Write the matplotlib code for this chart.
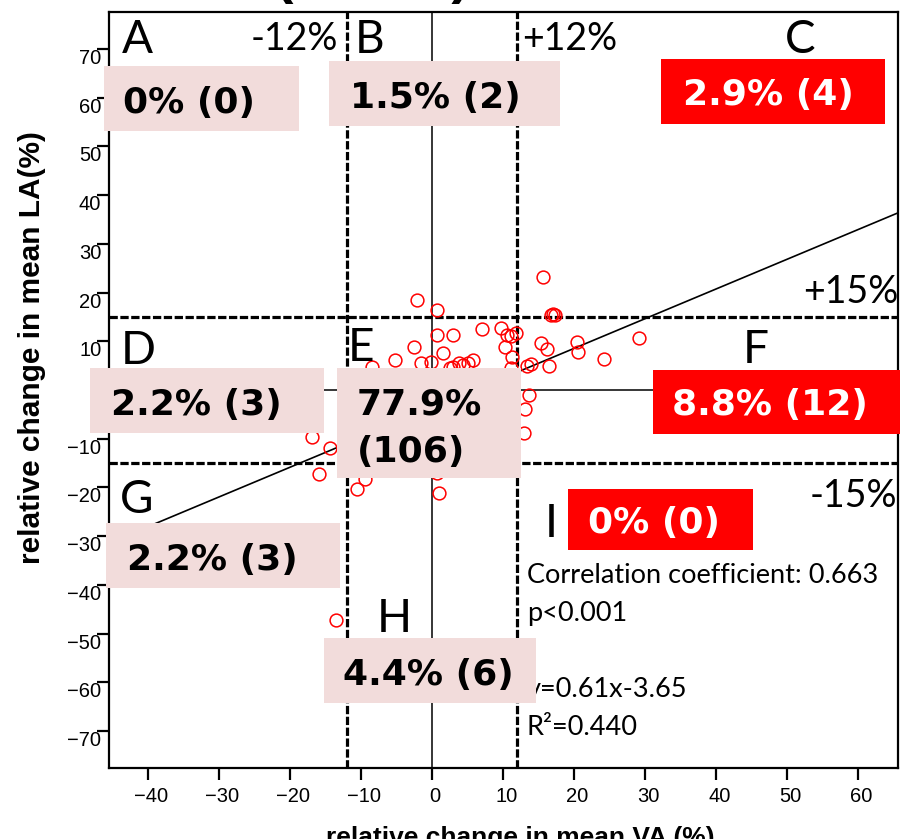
import numpy as np
import matplotlib
matplotlib.use("Agg")
import matplotlib.pyplot as plt
from matplotlib.patches import Rectangle
from matplotlib.transforms import ScaledTranslation

# relative change (%) of mean VA (x) and mean LA (y), one value per eye
va_change = [
    -2.2, 0.7,
    15.6, 16.7, 17.0, 17.3,
    15.4, 16.2, 20.4, 20.5, 24.2, 29.1, 16.4, 13.3, 13.9, 13.6, 13.1, 13.0,
    -16.9, -14.4, -21.0,
    -16.0, -13.5, -24.0,
    -10.6, -9.4, 0.7, 1.0, -4.0, 5.5,
    -8.4, -5.2, -2.5, -1.5, -0.1, 0.7, 2.9, 1.5, 7.0, 9.7, 10.6,
    11.1, 11.8, 10.3, 11.2, 11.1, 5.8, 5.0, 3.8, 3.0, 2.5, 4.4,
    -10.8, -10.1, -9.6, -9.2, -8.8, -8.5, -8.1, -7.7, -7.4, -7.0,
    -6.7, -6.3, -6.0, -5.7, -5.4, -5.1, -4.8, -4.5, -4.2, -3.9,
    -3.6, -3.3, -3.0, -2.7, -2.4, -2.1, -1.8, -1.5, -1.2, -0.9,
    -0.6, -0.3, 0.0, 0.3, 0.6, 0.9, 1.2, 1.5, 1.8, 2.1,
    2.4, 2.7, 3.0, 3.3, 3.6, 3.9, 4.2, 4.5, 4.8, 5.1,
    5.4, 5.7, 6.0, 6.3, 6.6, 6.9, 7.2, 7.5, 7.8, 8.1,
    8.4, 8.7, 9.0, 9.3, 9.6, 9.9, 10.2, 10.5, 10.8, 11.0,
    -11.3, -9.9, 4.0, 8.9, -1.0, 6.5, -6.5, 2.5, 0.5, -2.0,
    1.0, -0.5, 3.5, 5.5,
]
la_change = [
    18.5, 16.4,
    23.3, 15.3, 15.6, 15.3,
    9.6, 8.4, 9.9, 7.9, 6.3, 10.6, 4.9, 4.9, 5.3, -1.0, -3.8, -8.8,
    -9.6, -12.0, -3.5,
    -17.3, -47.2, -31.0,
    -20.4, -18.2, -17.1, -21.2, -16.2, -15.8,
    4.8, 6.2, 8.8, 5.5, 5.7, 11.3, 11.3, 7.5, 12.5, 12.7, 11.3,
    11.0, 11.6, 8.8, 6.8, 4.5, 6.2, 5.6, 5.5, 4.8, 4.6, 5.2,
    -6.2, -2.4, -9.8, 1.6, -4.5, -12.1, -0.8, -7.3, 2.4, -3.1,
    -10.4, -5.6, 0.9, -8.2, -1.9, -13.3, -4.0, 2.1, -6.9, -0.3,
    -9.5, -2.8, 1.2, -5.1, -11.6, -1.4, -7.8, 0.4, -3.9, -6.0,
    2.8, -2.2, -9.1, -0.6, -4.7, 1.9, -12.8, -3.3, -1.0, -6.6,
    2.6, -2.5, -8.7, 0.3, -4.2, -1.7, 1.5, -5.9, -0.9, -10.2,
    2.9, -3.6, -1.2, -7.4, 0.8, -4.9, 2.2, -2.0, -13.9, -0.4,
    -6.3, 1.7, -3.0, -9.3, 0.2, -1.6, 2.7, -4.4, -7.9, -0.7,
    -13.6, -14.2, -14.5, -11.7, -13.8, -11.0, -14.0, -10.9, -2.9, 3.0,
    0.6, -1.0, -0.2, 1.0,
]

va_cut = 12
la_cut = 15
slope = 0.61
intercept = -3.65
corr = 0.663
r_squared = 0.440
p_text = "p<0.001"

x_ticks = [-40, -30, -20, -10, 0, 10, 20, 30, 40, 50, 60]
y_ticks = [-70, -60, -50, -40, -30, -20, -10, 0, 10, 20, 30, 40, 50, 60, 70]
region_names = ["A", "B", "C", "D", "E", "F", "G", "H", "I"]

W, H = 904, 839
PINK = "#f2dcdb"
RED = "#ff0000"


def fx(px):
    return px / W


def fy(py):
    return 1 - py / H


va = np.array(va_change)
la = np.array(la_change)

# 3x3 grid: columns split at -/+12 % VA, rows at +/-15 % LA
col = np.where(va < -va_cut, 0, np.where(va > va_cut, 2, 1))
row = np.where(la > la_cut, 0, np.where(la < -la_cut, 2, 1))
counts = np.bincount(row * 3 + col, minlength=9)
total = len(va)

fig = plt.figure(figsize=(W / 100, H / 100), dpi=100)
ax = fig.add_axes([fx(109), fy(768), (898 - 109) / W, (768 - 12) / H])

ax.plot(va, la, "o", mfc="none", mec=RED, ms=9.2, mew=1.1, zorder=3)

xs = np.array([-45.5, 65.6])
ax.plot(xs, slope * xs + intercept, color="k", lw=1.2, zorder=2)
ax.axvline(0, color="k", lw=1.1, zorder=1.5)
ax.axhline(0, color="k", lw=1.1, zorder=1.5)
for v in (-va_cut, va_cut):
    ax.axvline(v, color="k", lw=2.3, dashes=(2.6, 0.8), zorder=1.8)
for v in (-la_cut, la_cut):
    ax.axhline(v, color="k", lw=2.3, dashes=(2.6, 0.8), zorder=1.8)

ax.set_xlim(-45.5, 65.6)
ax.set_ylim(-77.6, 77.6)
ax.set_xticks(x_ticks)
ax.set_yticks(y_ticks)
for s in ax.spines.values():
    s.set_linewidth(1.6)
ax.tick_params(direction="out", length=8.5, width=1.6, labelsize=14.5)
ax.tick_params(axis="y", pad=-3)
ax.tick_params(axis="x", pad=5)
for lbl in ax.get_xticklabels() + ax.get_yticklabels():
    lbl.set_family("Liberation Sans")
for lbl in ax.get_yticklabels():
    lbl.set_verticalalignment("top")
for lbl in ax.get_xticklabels():
    lbl.set_transform(lbl.get_transform() + ScaledTranslation(0.03, 0, fig.dpi_scale_trans))

fig.text(fx(32), fy(348), "relative change in mean LA(%)", rotation=90,
         ha="center", va="center", fontsize=21.5, weight="bold", family="Liberation Sans")
fig.text(fx(520), fy(845), "relative change in mean VA (%)",
         ha="center", va="baseline", fontsize=19, weight="bold", family="Liberation Sans")
fig.text(fx(274), fy(-8.5), "(n=136)", ha="left", va="baseline",
         fontsize=40, weight="bold", family="Liberation Sans")

# region boxes: left, top, right, bottom, text x, text baselines, fill
boxes = {
    "A": (104, 66, 299, 131, 123, [113], PINK),
    "B": (329, 61, 560, 126, 350, [108], PINK),
    "C": (661, 59, 885, 124, 683, [105], RED),
    "D": (90, 368, 324, 433, 111, [415], PINK),
    "E": (337, 368, 521, 478, 357, [415, 462], PINK),
    "F": (653, 370, 900, 434, 672, [415], RED),
    "G": (106, 523, 340, 588, 127, [570], PINK),
    "H": (324, 638, 536, 703, 343, [685], PINK),
    "I": (568, 489, 753, 550, 588, [533], RED),
}
letter_pos = {
    "A": (137, 53), "B": (370, 53), "C": (800, 53),
    "D": (138, 364), "E": (361, 361), "F": (756, 363),
    "G": (137, 513), "H": (394, 632), "I": (551, 537),
}

for i, name in enumerate(region_names):
    n = counts[i]
    pct = "0%" if n == 0 else f"{100 * n / total:.1f}%"
    x0, y0, x1, y1, tx, baselines, face = boxes[name]
    ax.add_patch(Rectangle((fx(x0), fy(y1)), (x1 - x0) / W, (y1 - y0) / H,
                           transform=fig.transFigure, facecolor=face,
                           edgecolor="none", clip_on=False, zorder=4))
    lines = [pct, f"({n})"] if len(baselines) == 2 else [f"{pct} ({n})"]
    color = "white" if face == RED else "black"
    for line, by in zip(lines, baselines):
        ax.text(fx(tx), fy(by), line, transform=fig.transFigure, ha="left",
                va="baseline", fontsize=26, weight="bold", family="DejaVu Sans",
                color=color, zorder=5)
    lx, ly = letter_pos[name]
    ax.text(fx(lx), fy(ly), name, transform=fig.transFigure, ha="center",
            va="baseline", fontsize=33, family="Lato", zorder=5)

for label, px, py in [(f"-{va_cut}%", 294, 50), (f"+{va_cut}%", 570, 50),
                      (f"+{la_cut}%", 851, 303), (f"-{la_cut}%", 853, 507)]:
    ax.text(fx(px), fy(py), label, transform=fig.transFigure, ha="center",
            va="baseline", fontsize=27, family="Lato", zorder=5)

stats = [
    (f"Correlation coefficient: {corr:.3f}", 583),
    (p_text, 621),
    (f"y={slope:.2f}x{intercept:+.2f}", 697),
    (f"R\u00b2={r_squared:.3f}", 735),
]
for line, by in stats:
    ax.text(fx(527), fy(by), line, transform=fig.transFigure, ha="left",
            va="baseline", fontsize=19.5, family="Lato", zorder=3.5)

fig.savefig("out.png", dpi=100)
